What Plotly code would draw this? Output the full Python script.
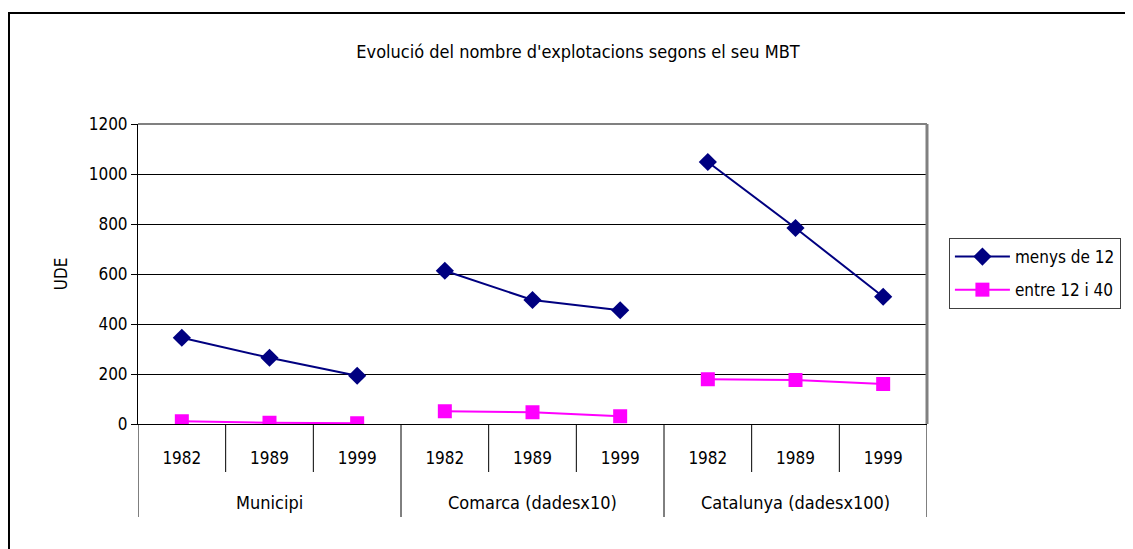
import plotly.graph_objects as go

groups = ["Municipi", "Comarca (dadesx10)", "Catalunya (dadesx100)"]
years = ["1982", "1989", "1999"]
menys_de_12 = [[345, 265, 193], [613, 496, 455], [1048, 784, 509]]
entre_12_40 = [[11, 5, 3], [51, 47, 31], [179, 176, 160]]
y_ticks = [0, 200, 400, 600, 800, 1000, 1200]

FONT = "Liberation Sans Narrow, Arial Narrow, DejaVu Sans Condensed, sans-serif"
OFF = 8  # default page body margin
W, H = 1133 - OFF, 549 - OFF
L, R, T, B = 138 - OFF, 930 - OFF, 124 - OFF, 424 - OFF

cats = [f"{g}|{y}" for g in groups for y in years]
cat_labels = [y for g in groups for y in years]

fig = go.Figure()
series = [
    ("menys de 12", menys_de_12, "#000080", "diamond", 14),
    ("entre 12 i 40", entre_12_40, "#FF00FF", "square", 14),
]
for name, vals, color, sym, size in series:
    for gi, g in enumerate(groups):
        fig.add_trace(go.Scatter(
            x=[f"{g}|{y}" for y in years],
            y=vals[gi],
            mode="lines+markers",
            name=name,
            legendgroup=name,
            showlegend=(gi == 0),
            line=dict(color=color, width=2),
            marker=dict(symbol=sym, size=size, color=color),
        ))

def px_x(p):  # page pixel -> paper
    return (p - OFF - L) / (R - L)

def px_y(p):
    return (B - (p - OFF)) / (B - T)

shapes = [
    dict(type="rect", xref="paper", yref="paper",
         x0=px_x(8.5), x1=px_x(1160), y0=px_y(13), y1=px_y(580),
         line=dict(color="black", width=2), layer="below"),
    dict(type="line", xref="paper", yref="paper", x0=0, x1=1, y0=1, y1=1,
         line=dict(color="#808080", width=2)),
    dict(type="line", xref="paper", yref="paper", x0=1, x1=1, y0=0, y1=1,
         line=dict(color="#808080", width=3)),
]
n = len(cats)
for i in range(n + 1):
    xb = i - 0.5
    is_group = (i % len(years) == 0)
    shapes.append(dict(type="line", xref="x", yref="paper", x0=xb, x1=xb,
                       y0=0, y1=px_y(517 if is_group else 472),
                       line=dict(color="black", width=1)))

annotations = []
for gi, g in enumerate(groups):
    annotations.append(dict(xref="x", yref="paper", x=f"{g}|{years[1]}",
                            y=px_y(502), text=g, showarrow=False,
                            xanchor="center", yanchor="middle",
                            font=dict(family=FONT, size=18, color="black")))

fig.update_layout(
    width=W, height=H,
    margin=dict(l=L, r=W - R, t=T, b=H - B, pad=0),
    paper_bgcolor="white", plot_bgcolor="white",
    font=dict(family=FONT, size=17, color="black"),
    title=dict(text="Evolució del nombre d'explotacions segons el seu MBT",
               xref="container", x=(578 - OFF) / W, xanchor="center",
               y=1 - (52 - OFF) / H, yanchor="middle",
               font=dict(family=FONT, size=18, color="black")),
    xaxis=dict(type="category", categoryorder="array", categoryarray=cats,
               tickvals=cats, ticktext=cat_labels, range=[-0.5, n - 0.5],
               showline=True, linecolor="black", linewidth=1,
               ticks="", showgrid=False, zeroline=False, automargin=False,
               ticklabelstandoff=19, tickfont=dict(family=FONT, size=17)),
    yaxis=dict(range=[0, 1200], tickvals=y_ticks, showline=True, linecolor="black",
               linewidth=1, ticks="outside", ticklen=6, tickcolor="black",
               gridcolor="black", gridwidth=1, zeroline=False, automargin=False,
               title=dict(text="UDE", font=dict(family=FONT, size=17), standoff=16),
               tickfont=dict(family=FONT, size=17)),
    legend=dict(x=px_x(952), y=px_y(238), xanchor="left", yanchor="top",
                bordercolor="#404040", borderwidth=1, bgcolor="white",
                font=dict(family=FONT, size=17), tracegroupgap=8,
                itemwidth=55),
    shapes=shapes,
    annotations=annotations,
    showlegend=True,
)

fig.write_html("out.html")
